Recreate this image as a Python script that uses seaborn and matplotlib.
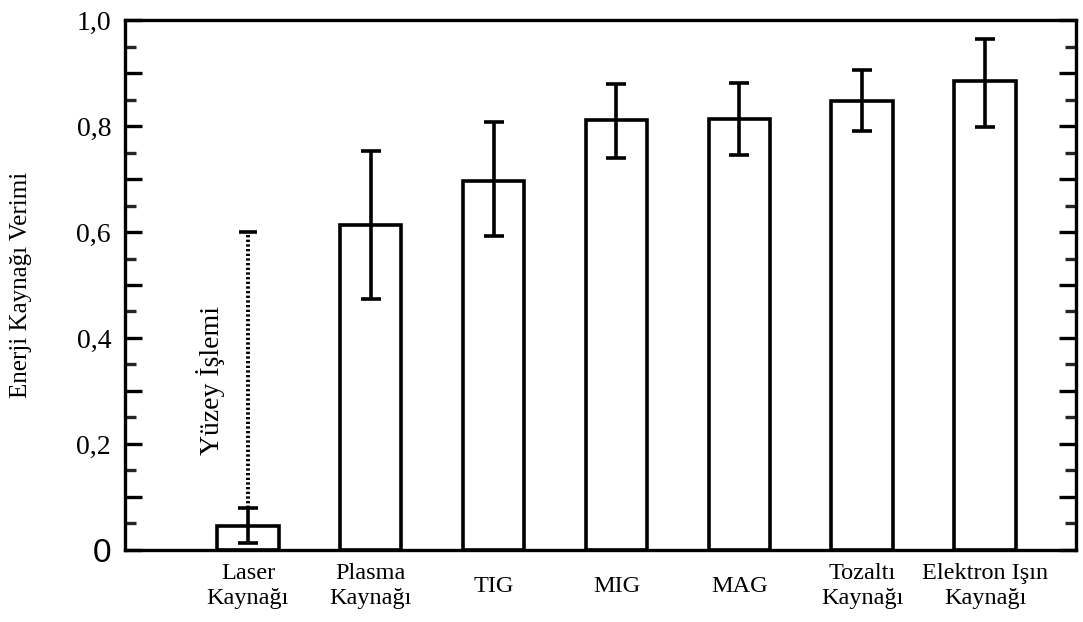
import matplotlib
matplotlib.use("Agg")
import matplotlib.pyplot as plt
import seaborn as sns
import numpy as np
import pandas as pd
from matplotlib.ticker import MultipleLocator, FixedLocator, FixedFormatter

# Energy source efficiency per welding process (mean, lower and upper bound)
categories = ["Laser\nKaynağı", "Plasma\nKaynağı", "TIG", "MIG", "MAG",
              "Tozaltı\nKaynağı", "Elektron Işın\nKaynağı"]
efficiency = [0.045, 0.613, 0.696, 0.811, 0.813, 0.848, 0.885]
eff_low = [0.013, 0.474, 0.592, 0.740, 0.745, 0.791, 0.798]
eff_high = [0.079, 0.753, 0.808, 0.879, 0.881, 0.906, 0.964]

# Laser surface treatment range (dotted extension)
surface_low = 0.079
surface_high = 0.60
surface_label = "Yüzey İşlemi"

y_ticks = [0.0, 0.1, 0.2, 0.3, 0.4, 0.5, 0.6, 0.7, 0.8, 0.9, 1.0]
y_tick_labels = ["0", "", "0,2", "", "0,4", "", "0,6", "", "0,8", "", "1,0"]

sns.set_theme(style="white")
plt.rcParams["font.family"] = ["Liberation Serif", "DejaVu Serif"]

df = pd.DataFrame({"proses": categories, "verim": efficiency})

fig = plt.figure(figsize=(10.83, 6.22), dpi=100)
ax = fig.add_axes([0.1154, 0.1158, 0.8781, 0.852])

sns.barplot(data=df, x="proses", y="verim", order=categories, fill=False,
            color="black", linewidth=2.6, width=0.5, errorbar=None, ax=ax)
for p in ax.patches:
    p.set_edgecolor("black")
    p.set_facecolor("white")
    p.set_fill(True)

x = np.arange(len(categories))
eff = np.array(efficiency)
yerr = np.vstack([eff - np.array(eff_low), np.array(eff_high) - eff])
ax.errorbar(x, eff, yerr=yerr, fmt="none", ecolor="black", elinewidth=2.6,
            capsize=7, capthick=2.6, zorder=5)

# dotted surface treatment range above the laser bar
ax.plot([x[0], x[0]], [surface_low, surface_high], color="black",
        linestyle=(0, (0.6, 0.6)), linewidth=2.8, zorder=5)
ax.plot([x[0]], [surface_high], marker="_", markersize=13, markeredgewidth=2.6,
        color="black", zorder=5)
ax.text(x[0] - 0.3, 0.32, surface_label, rotation=90, ha="center", va="center",
        fontsize=20, color="black")

ax.set_xlim(-1.0, 6.74)
ax.set_ylim(0, 1.0)

ax.yaxis.set_major_locator(FixedLocator(y_ticks))
ax.yaxis.set_major_formatter(FixedFormatter(y_tick_labels))
ax.yaxis.set_minor_locator(MultipleLocator(0.05))
ax.tick_params(axis="y", which="major", direction="in", length=12, width=2.4,
               left=True, right=True, labelsize=20, pad=10, colors="black")
ax.tick_params(axis="y", which="minor", direction="in", length=8, width=2.4,
               left=True, right=True)
ax.tick_params(axis="x", which="both", length=0, pad=26, labelsize=17.5,
               colors="black")
for lbl in ax.get_xticklabels():
    lbl.set_verticalalignment("center")
    lbl.set_multialignment("center")
    lbl.set_linespacing(1.2)
ax.get_yticklabels()[0].set_fontfamily(["Liberation Sans", "DejaVu Sans"])
ax.get_yticklabels()[0].set_fontsize(24)

for s in ax.spines.values():
    s.set_visible(True)
    s.set_color("black")
    s.set_linewidth(2.4)

ax.set_xlabel("")
ax.set_ylabel("Enerji Kaynağı Verimi", fontsize=18, color="black")
ax.yaxis.set_label_coords(-0.098, 0.5)

fig.savefig("out.png", dpi=100, facecolor="white")
